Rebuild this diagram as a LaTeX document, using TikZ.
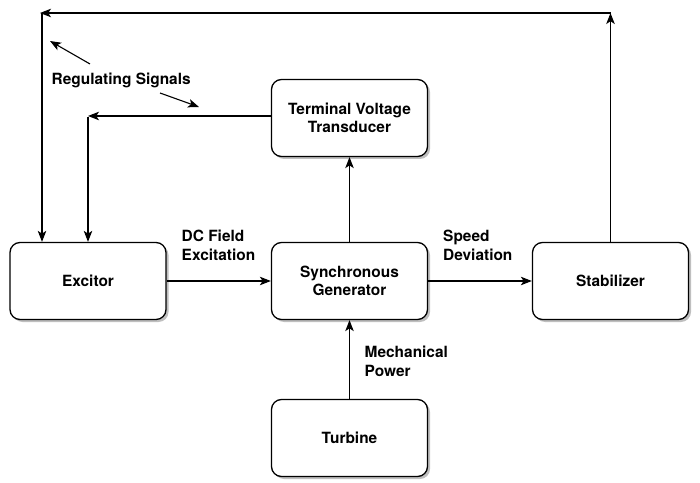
\documentclass[tikz,border=0pt]{standalone}
\usepackage{fontspec}
\setmainfont{TeX Gyre Heros}
\usetikzlibrary{arrows.meta,shadows}
\tikzset{
  blk/.style={draw=black, line width=1.3bp, rounded corners=10bp, fill=white,
    minimum width=156bp, minimum height=77bp, inner sep=0pt, align=center,
    font=\fontsize{15.5}{18.5}\selectfont\bfseries,
    drop shadow={shadow xshift=2.5bp, shadow yshift=-2.5bp, fill=black, opacity=0.25}},
  lbl/.style={inner sep=0pt, align=left, anchor=north west,
    font=\fontsize{15.5}{19}\selectfont\bfseries},
  conn/.style={draw=black, line width=1.1bp, -{Stealth[length=11bp,width=8.5bp,inset=2.8bp]}},
  plain/.style={draw=black, line width=1.1bp}
}
\begin{document}
\begin{tikzpicture}[x=1bp,y=-1bp]
\useasboundingbox (0,0) rectangle (700,483);
\node[blk] (exc) at (88,281) {Excitor};
\node[blk] (sg) at (349.5,281) {Synchronous\\Generator};
\node[blk] (stab) at (610.5,281) {Stabilizer};
\node[blk] (tvt) at (349.5,118) {Terminal Voltage\\Transducer};
\node[blk] (tur) at (349.5,438) {Turbine};

\coordinate (tr) at (610.5,13);
\coordinate (tl) at (40,13);
\coordinate (tlv) at (42,13);
\coordinate (ml) at (88,116);
\coordinate (mlv) at (88,117);

\draw[conn] (stab.north) -- (tr);
\draw[conn] (tr) -- (tl);
\draw[conn] (tlv) -- (tlv |- exc.north);
\draw[conn] (tvt.west |- ml) -- (ml);
\draw[conn] (mlv) -- (mlv |- exc.north);
\draw[conn] (sg.north) -- (tvt.south);
\draw[conn] (tur.north) -- (sg.south);
\draw[conn] (exc.east) -- (sg.west);
\draw[conn] (sg.east) -- (stab.west);

\node[lbl] (rs) at (51.5,72.5) {Regulating Signals};
\coordinate (ra1) at (90,64);
\coordinate (ra2) at (50,41);
\coordinate (rb1) at (160,93);
\coordinate (rb2) at (199,107);
\draw[conn] (ra1) -- (ra2);
\draw[conn] (rb1) -- (rb2);

\node[lbl] (dc) at (181.5,229.5) {DC Field\\Excitation};
\node[lbl] (sd) at (443,229.5) {Speed\\Deviation};
\node[lbl] (mp) at (364.5,346) {Mechanical\\Power};
\end{tikzpicture}
\end{document}
